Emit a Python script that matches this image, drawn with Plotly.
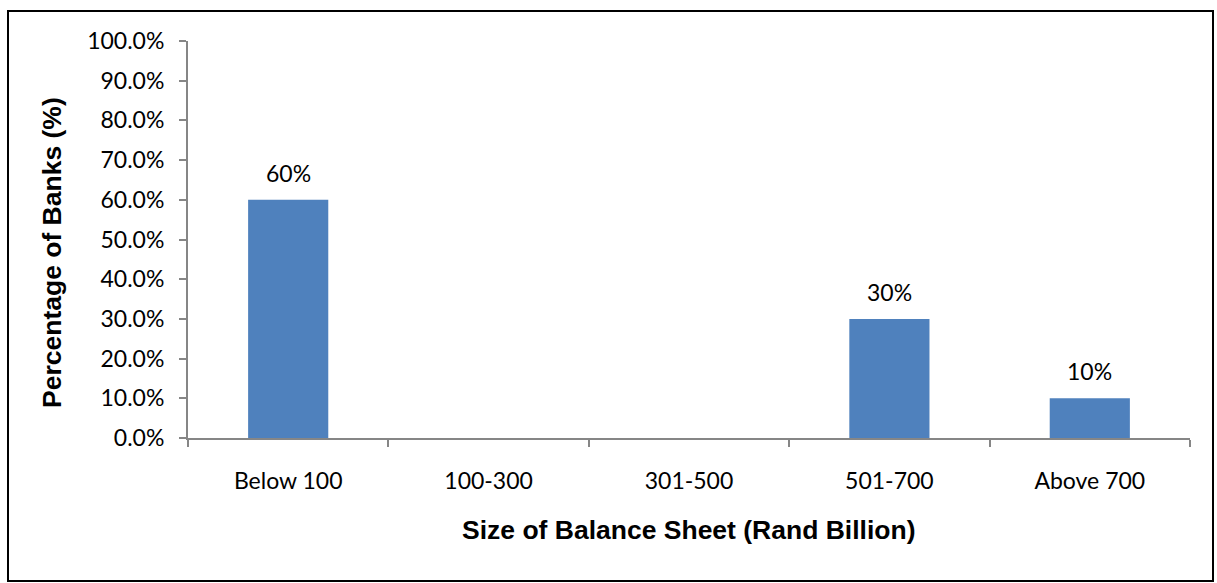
import plotly.graph_objects as go

categories = ["Below 100", "100-300", "301-500", "501-700", "Above 700"]
share_pct = [60, 0, 0, 30, 10]
y_ticks = [0, 10, 20, 30, 40, 50, 60, 70, 80, 90, 100]
y_tick_text = [f"{v:.1f}%" for v in y_ticks]

W, H = 1217, 583
ML, MR, MT, MB = 188, 27, 41, 145
PW, PH = W - ML - MR, H - MT - MB

AXIS = "#868686"
BAR = "#4F81BD"
TICK_FONT = dict(family="Lato, Open Sans, sans-serif", size=23, color="#000000")
TITLE_FONT = dict(family="Liberation Sans, Arial, sans-serif", size=26.5, color="#000000")

fig = go.Figure(
    go.Bar(
        x=categories,
        y=share_pct,
        width=0.4,
        marker=dict(color=BAR, line=dict(width=0)),
        hoverinfo="x+y",
    )
)

# value labels above the non-empty bars
for cat, val in zip(categories, share_pct):
    if val > 0:
        fig.add_annotation(
            x=cat, y=val, xref="x", yref="y",
            text=f"{val:.0f}%",
            showarrow=False,
            yanchor="middle",
            yshift=27,
            font=TICK_FONT,
        )

fig.update_layout(
    width=W,
    height=H,
    margin=dict(l=ML, r=MR, t=MT, b=MB, autoexpand=False),
    paper_bgcolor="white",
    plot_bgcolor="white",
    showlegend=False,
)

fig.update_xaxes(
    type="category",
    range=[-0.5, 4.5],
    showline=True,
    linecolor=AXIS,
    linewidth=2,
    ticks="outside",
    tickson="boundaries",
    ticklen=7,
    tickcolor=AXIS,
    tickwidth=2,
    tickfont=TICK_FONT,
    ticklabelstandoff=21,
    showgrid=False,
    zeroline=False,
)

fig.update_yaxes(
    range=[0, 100],
    tickvals=y_ticks,
    ticktext=y_tick_text,
    showline=True,
    linecolor=AXIS,
    linewidth=2,
    ticks="outside",
    ticklen=7,
    tickcolor=AXIS,
    tickwidth=2,
    tickfont=TICK_FONT,
    ticklabelstandoff=10,
    showgrid=False,
    zeroline=False,
)

fig.add_annotation(
    text="<b>Size of Balance Sheet (Rand Billion)</b>",
    xref="paper", yref="paper",
    x=0.5, y=0, yanchor="middle",
    yshift=-(530 - (MT + PH)),
    showarrow=False,
    font=TITLE_FONT,
)
fig.add_annotation(
    text="<b>Percentage of Banks (%)</b>",
    xref="paper", yref="paper",
    x=0, y=0.5, xanchor="center", yanchor="middle",
    xshift=52 - ML,
    yshift=-(253 - (MT + PH / 2)),
    textangle=-90,
    showarrow=False,
    font=TITLE_FONT,
)

# outer frame around the whole chart
fig.add_shape(
    type="rect",
    xref="paper", yref="paper",
    x0=(8 - ML) / PW, x1=(1213 - ML) / PW,
    y0=(H - 2 - (MT + PH)) / -PH, y1=(MT + PH - 11) / PH,
    line=dict(color="black", width=2),
    fillcolor="rgba(0,0,0,0)",
    layer="above",
)

fig.write_html("out.html")
